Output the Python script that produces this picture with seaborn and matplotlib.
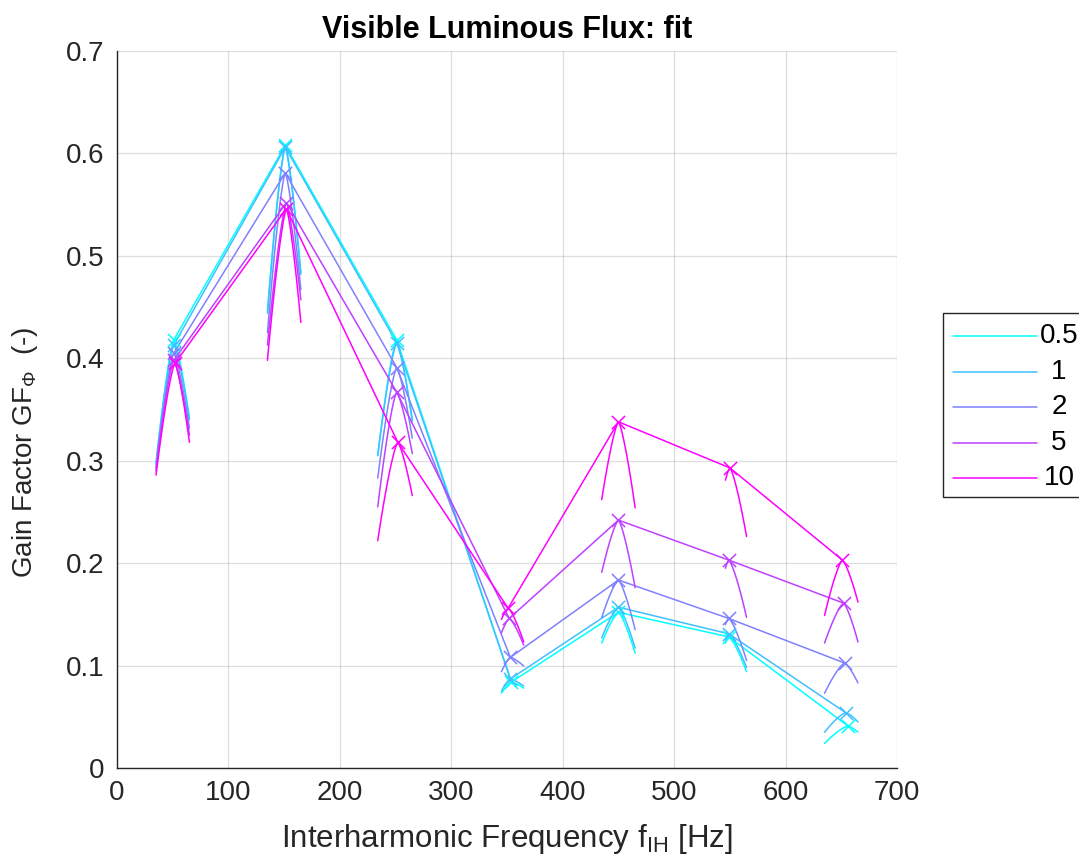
import numpy as np
import pandas as pd
import matplotlib
matplotlib.use("Agg")
import matplotlib.pyplot as plt
import seaborn as sns
from matplotlib.lines import Line2D
from matplotlib.patches import Rectangle

# ---------------- data ----------------
series = ["0.5", "1", "2", "5", "10"]
colors = ["#00ffff", "#40bfff", "#8080ff", "#bf40ff", "#ff00ff"]

# peak (marker) frequencies per series
peak_f_05 = [51, 151, 251, 354, 450, 549, 656]
peak_f_1 = [51, 151, 251, 353, 450, 549, 654]
peak_f_2 = [51, 151, 251, 353, 450, 549, 653]
peak_f_5 = [51, 152, 251, 352, 450, 549, 652]
peak_f_10 = [52, 152, 252, 351, 450, 550, 651]

# peak gain factor values per series
gf_05 = [0.418, 0.608, 0.418, 0.084, 0.152, 0.128, 0.041]
gf_1 = [0.413, 0.606, 0.415, 0.087, 0.157, 0.131, 0.054]
gf_2 = [0.405, 0.581, 0.391, 0.108, 0.1835, 0.146, 0.1025]
gf_5 = [0.398, 0.552, 0.367, 0.146, 0.242, 0.203, 0.161]
gf_10 = [0.395, 0.546, 0.318, 0.156, 0.338, 0.293, 0.203]

# fit curve frequency range for each harmonic group
fit_lo = [35, 135, 234, 345, 435, 546, 635]
fit_hi = [65, 165, 265, 365, 465, 565, 665]

# fit curve end values (left end at fit_lo, right end at fit_hi)
fit_left_05 = [0.296, 0.446, 0.305, 0.073, 0.122, 0.122, 0.024]
fit_left_1 = [0.298, 0.444, 0.305, 0.075, 0.127, 0.125, 0.035]
fit_left_2 = [0.293, 0.425, 0.283, 0.094, 0.147, 0.140, 0.073]
fit_left_5 = [0.290, 0.413, 0.255, 0.132, 0.191, 0.195, 0.122]
fit_left_10 = [0.286, 0.398, 0.222, 0.145, 0.262, 0.281, 0.149]

fit_right_05 = [0.342, 0.484, 0.338, 0.078, 0.112, 0.094, 0.035]
fit_right_1 = [0.340, 0.482, 0.340, 0.080, 0.117, 0.098, 0.045]
fit_right_2 = [0.332, 0.467, 0.322, 0.0996, 0.135, 0.105, 0.083]
fit_right_5 = [0.325, 0.457, 0.307, 0.120, 0.176, 0.147, 0.123]
fit_right_10 = [0.318, 0.435, 0.266, 0.123, 0.254, 0.226, 0.162]

peak_f = [peak_f_05, peak_f_1, peak_f_2, peak_f_5, peak_f_10]
gf = [gf_05, gf_1, gf_2, gf_5, gf_10]
fit_left = [fit_left_05, fit_left_1, fit_left_2, fit_left_5, fit_left_10]
fit_right = [fit_right_05, fit_right_1, fit_right_2, fit_right_5, fit_right_10]

# ---------------- style ----------------
sns.set_style("white")
plt.rcParams["font.family"] = ["Liberation Sans", "DejaVu Sans"]
plt.rcParams["mathtext.fontset"] = "custom"
plt.rcParams["mathtext.rm"] = "Liberation Sans"
plt.rcParams["mathtext.it"] = "Liberation Sans:italic"
plt.rcParams["mathtext.bf"] = "Liberation Sans:bold"

W, H = 1079, 859
fig = plt.figure(figsize=(W / 100, H / 100), dpi=100)
ax = fig.add_axes([117 / W, (H - 768) / H, (897 - 117) / W, (768 - 51) / H])

dark = (0.15, 0.15, 0.15)
palette = dict(zip(series, colors))

# main connecting lines
rows = []
for s, fs, vs in zip(series, peak_f, gf):
    for f, v in zip(fs, vs):
        rows.append({"series": s, "f": f, "gf": v})
df = pd.DataFrame(rows)

# fit curves
p_exp = 1.35
fit_rows = []
for s, fs, vs, ls, rs in zip(series, peak_f, gf, fit_left, fit_right):
    for k, (f0, v0, yl, yr) in enumerate(zip(fs, vs, ls, rs)):
        lo, hi = fit_lo[k], fit_hi[k]
        xl = np.linspace(lo, f0, 25)
        yl_c = v0 - (v0 - yl) * ((f0 - xl) / (f0 - lo)) ** p_exp
        xr = np.linspace(f0, hi, 25)[1:]
        yr_c = v0 - (v0 - yr) * ((xr - f0) / (hi - f0)) ** p_exp
        for x, y in zip(np.concatenate([xl, xr]), np.concatenate([yl_c, yr_c])):
            fit_rows.append({"series": s, "unit": f"{s}_{k}", "f": x, "gf": y})
dfit = pd.DataFrame(fit_rows)

for s in series:
    sub = df[df.series == s]
    sns.lineplot(data=sub, x="f", y="gf", color=palette[s], lw=1.1,
                 estimator=None, sort=False, ax=ax, legend=False)
    subf = dfit[dfit.series == s]
    sns.lineplot(data=subf, x="f", y="gf", units="unit", color=palette[s], lw=1.1,
                 estimator=None, sort=False, ax=ax, legend=False)
    sns.scatterplot(data=sub, x="f", y="gf", color=palette[s], marker="x", s=90,
                    linewidth=1.1, ax=ax, legend=False, zorder=3)

# axes
ax.set_xlim(0, 700)
ax.set_ylim(0, 0.7)
ax.set_xticks(np.arange(0, 701, 100))
ax.set_yticks(np.round(np.arange(0, 0.71, 0.1), 1))
ax.set_yticklabels(["0", "0.1", "0.2", "0.3", "0.4", "0.5", "0.6", "0.7"])
ax.grid(True, color=dark, alpha=0.15, lw=0.9)
ax.set_axisbelow(True)
for side in ["top", "right"]:
    ax.spines[side].set_visible(False)
for side in ["left", "bottom"]:
    ax.spines[side].set_color(dark)
    ax.spines[side].set_linewidth(1.0)
ax.tick_params(direction="in", length=5, width=1.0, color=dark, labelcolor=dark,
               labelsize=20, pad=9)

ax.set_title("Visible Luminous Flux: fit", fontsize=22, fontweight="bold", pad=9,
             color="black")
ax.set_xlabel("Interharmonic Frequency f$_{\\mathrm{IH}}$ [Hz]", fontsize=22.5,
              color=dark, labelpad=11)
ax.set_ylabel("Gain Factor GF$_{\\Phi}$  (-)", fontsize=20, color=dark)
ax.yaxis.set_label_coords(-0.099, 0.44)

# legend (outside, right)
def fx(px):
    return px / W

def fy(py):
    return 1 - py / H

fig.add_artist(Rectangle((fx(943), fy(497)), fx(1100) - fx(943), fy(313) - fy(497),
                         transform=fig.transFigure, fill=True, facecolor="white",
                         edgecolor=dark, lw=1.0))
row_y = [336, 372, 407, 443, 478]
for s, c, ry in zip(series, colors, row_y):
    fig.add_artist(Line2D([fx(953), fx(1037)], [fy(ry), fy(ry)], color=c, lw=1.1,
                          transform=fig.transFigure))
    fig.text(fx(1059), fy(ry), s, ha="center", va="center", fontsize=20, color="black")

fig.savefig("out.png", dpi=100)
